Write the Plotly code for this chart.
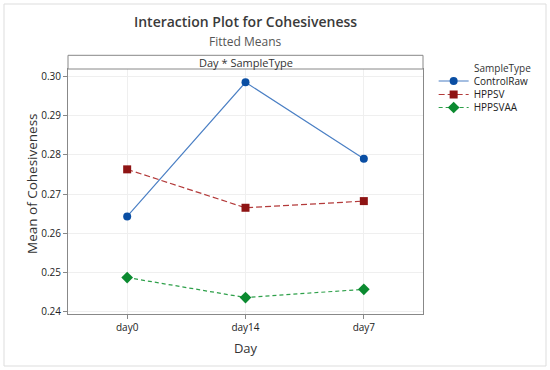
import plotly.graph_objects as go

days = ["day0", "day14", "day7"]
control_raw = [0.2643, 0.2985, 0.2790]
hppsv = [0.2763, 0.2665, 0.2682]
hppsvaa = [0.2487, 0.2436, 0.2457]
yticks = [0.24, 0.25, 0.26, 0.27, 0.28, 0.29, 0.30]
ytick_text = ["0.24", "0.25", "0.26", "0.27", "0.28", "0.29", "0.30"]

FONT = "Open Sans"
PH = 245.0  # plot height px
PW = 355.0  # plot width px
L, T = 68, 69

def px_x(x):
    return (x - L) / PW

def px_y(y):
    return (T + PH - y) / PH

fig = go.Figure()
fig.add_trace(go.Scatter(x=days, y=control_raw, name="ControlRaw", mode="lines+markers",
                         line=dict(color="#4a7fc4", width=1.2),
                         marker=dict(symbol="circle", size=8, color="#0a4ea3"),
                         legend="legend", showlegend=True))
fig.add_trace(go.Scatter(x=days, y=hppsv, name="HPPSV", mode="lines+markers",
                         line=dict(color="#b33a3a", width=1.2, dash="6px,3px"),
                         marker=dict(symbol="square", size=8, color="#8e1414"),
                         legend="legend2", showlegend=True))
fig.add_trace(go.Scatter(x=days, y=hppsvaa, name="HPPSVAA", mode="lines+markers",
                         line=dict(color="#2ea04a", width=1.2, dash="4px,3px"),
                         marker=dict(symbol="diamond", size=9, color="#0b8a30"),
                         legend="legend3", showlegend=True))

leg_common = dict(x=1.03, xanchor="left", yanchor="top",
                  font=dict(size=10, color="#222"), itemwidth=30, bgcolor="rgba(0,0,0,0)")

fig.update_layout(
    width=550, height=370,
    showlegend=True,
    margin=dict(l=L, r=550 - L - int(PW), t=T, b=370 - T - int(PH), autoexpand=False),
    paper_bgcolor="white", plot_bgcolor="white",
    font=dict(family=FONT, color="#333333"),
    title=dict(text="Interaction Plot for Cohesiveness",
               xref="paper", x=0.5, xanchor="center",
               yref="container", y=1 - 22.5 / 370, yanchor="middle",
               font=dict(size=14, color="#3a3a3a", family=FONT, weight=600)),
    xaxis=dict(range=[-0.5, 2.5], type="category", showgrid=True, gridcolor="#efefef",
               ticks="outside", ticklen=4, tickcolor="#888", tickfont=dict(size=10, color="#222"),
               title=dict(text="Day", font=dict(size=13, color="#333"), standoff=10),
               showline=True, linecolor="#888", mirror=True, zeroline=False, automargin=False),
    yaxis=dict(range=[0.2394, 0.3019], tickvals=yticks, ticktext=ytick_text,
               showgrid=True, gridcolor="#efefef",
               ticks="outside", ticklen=4, tickcolor="#888", tickfont=dict(size=10, color="#222"),
               showline=True, linecolor="#888", mirror=True, zeroline=False, automargin=False),
    legend=dict(y=px_y(66.5), visible=True, **leg_common),
    legend2=dict(y=px_y(80), visible=True, **leg_common),
    legend3=dict(y=px_y(93), visible=True, **leg_common),
)
# subtitle
fig.add_annotation(text="Fitted Means", xref="paper", yref="paper", x=0.5, y=px_y(41.5),
                   xanchor="center", yanchor="middle", showarrow=False,
                   font=dict(size=12, color="#555"))
# y-axis title
fig.add_annotation(text="Mean of Cohesiveness", xref="paper", yref="paper", x=px_x(32), y=px_y(184),
                   xanchor="center", yanchor="middle", textangle=-90, showarrow=False,
                   font=dict(size=13.5, color="#333"))
# legend title
fig.add_annotation(text="SampleType", xref="paper", yref="paper", x=px_x(472), y=px_y(68),
                   xanchor="left", yanchor="middle", showarrow=False,
                   font=dict(size=10, color="#333"))
# strip header
fig.add_shape(type="rect", xref="paper", yref="paper", x0=0, x1=1, y0=1, y1=px_y(55.3),
              line=dict(color="#888", width=1), fillcolor="white")
fig.add_annotation(text="Day * SampleType", xref="paper", yref="paper", x=0.5, y=px_y(62.5),
                   showarrow=False, font=dict(size=11, color="#333"), yanchor="middle")
# outer border
fig.add_shape(type="rect", xref="paper", yref="paper",
              x0=px_x(4), x1=px_x(546), y0=px_y(366), y1=px_y(4),
              line=dict(color="#dddddd", width=1))

fig.write_html("out.html", config={"displayModeBar": False},
               post_script="document.body.style.margin='0';document.body.style.padding='0';")
